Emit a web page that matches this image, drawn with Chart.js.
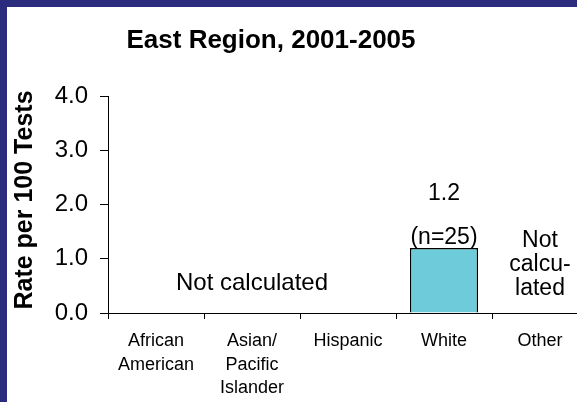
<!DOCTYPE html>
<html>
<head>
<meta charset="utf-8">
<script src="https://cdn.jsdelivr.net/npm/chart.js@4"></script>
<style>
  html, body { margin: 0; padding: 0; }
  body { width: 577px; height: 402px; overflow: hidden; background: #2c2c7e; position: relative; }
  #panel { position: absolute; left: 7px; top: 7px; width: 570px; height: 395px; background: #fff; overflow: hidden; }
  #chart { position: absolute; left: 0; top: 0; }
</style>
</head>
<body>
<div id="panel"><canvas id="chart" width="600" height="395"></canvas></div>
<script>
/* ================= DATA ================= */
const titleText = "East Region, 2001-2005";
const yTitle = "Rate per 100 Tests";
const categories = [
  ["African", "American"],
  ["Asian/", "Pacific", "Islander"],
  ["Hispanic"],
  ["White"],
  ["Other"]
];
const rates = [null, null, null, 1.2, null];
const counts = [null, null, null, 25, null];
const yTicks = [0, 1, 2, 3, 4];
const notCalcText = "Not calculated";
const notCalcOther = ["Not", "calcu-", "lated"];

const FONT = "'Liberation Sans', Arial, sans-serif";

/* ================= TEXT PLUGIN ================= */
const textPlugin = {
  id: "texts",
  afterDraw(chart) {
    const ctx = chart.ctx;
    const x = chart.scales.x, y = chart.scales.y;
    ctx.save();
    ctx.fillStyle = "#000";
    ctx.textAlign = "center";

    // title
    ctx.font = "bold 26px " + FONT;
    ctx.textBaseline = "alphabetic";
    ctx.fillText(titleText, 264, 41);

    ctx.textBaseline = "middle";

    // y axis title
    ctx.save();
    ctx.translate(18, 193);
    ctx.rotate(-Math.PI / 2);
    ctx.font = "bold 25px " + FONT;
    ctx.fillText(yTitle, 0, 0);
    ctx.restore();

    // value + n labels over bars
    rates.forEach((v, i) => {
      if (v === null) return;
      const px = x.getPixelForValue(i);
      const top = y.getPixelForValue(v);
      ctx.font = "23px " + FONT;
      ctx.fillText(v.toFixed(1), px, top - 54);
      ctx.fillText("(n=" + counts[i] + ")", px, top - 10);
    });

    // not calculated notes
    ctx.font = "24px " + FONT;
    ctx.fillText(notCalcText, x.getPixelForValue(1), y.getPixelForValue(0.55));
    const ox = x.getPixelForValue(4);
    const oy = y.getPixelForValue(0.55);
    ctx.font = "23px " + FONT;
    notCalcOther.forEach((t, k) => {
      ctx.fillText(t, ox, oy + 5 + (k - 2) * 24);
    });
    ctx.restore();
  }
};

/* ================= CHART ================= */
const ctx = document.getElementById("chart").getContext("2d");

new Chart(ctx, {
  type: "bar",
  data: {
    labels: categories,
    datasets: [{
      data: rates,
      backgroundColor: "#6ecbd9",
      borderColor: "#000",
      borderWidth: 1.5,
      barPercentage: 0.71,
      categoryPercentage: 1
    }]
  },
  options: {
    responsive: false,
    animation: false,
    devicePixelRatio: 1,
    layout: { padding: { left: 0, top: 89, right: 19, bottom: 0 } },
    plugins: {
      legend: { display: false },
      tooltip: { enabled: false },
      title: { display: false }
    },
    scales: {
      x: {
        afterFit: s => { s.height = 89; },
        grid: { offset: true, drawOnChartArea: false, drawTicks: true, tickLength: 6, color: "#000" },
        border: { display: true, color: "#000", width: 1 },
        ticks: {
          color: "#000",
          padding: 10,
          maxRotation: 0,
          autoSkip: false,
          font: { family: FONT, size: 18, lineHeight: 1.32 }
        }
      },
      y: {
        min: 0,
        max: 4,
        afterFit: s => { s.width = 101; },
        afterBuildTicks: s => { s.ticks = yTicks.map(v => ({ value: v })); },
        grid: { drawOnChartArea: false, drawTicks: true, tickLength: 8, color: "#000" },
        border: { display: true, color: "#000", width: 1 },
        ticks: {
          color: "#000",
          padding: 12,
          font: { family: FONT, size: 24 },
          callback: v => v.toFixed(1)
        }
      }
    }
  },
  plugins: [textPlugin]
});
</script>
</body>
</html>
